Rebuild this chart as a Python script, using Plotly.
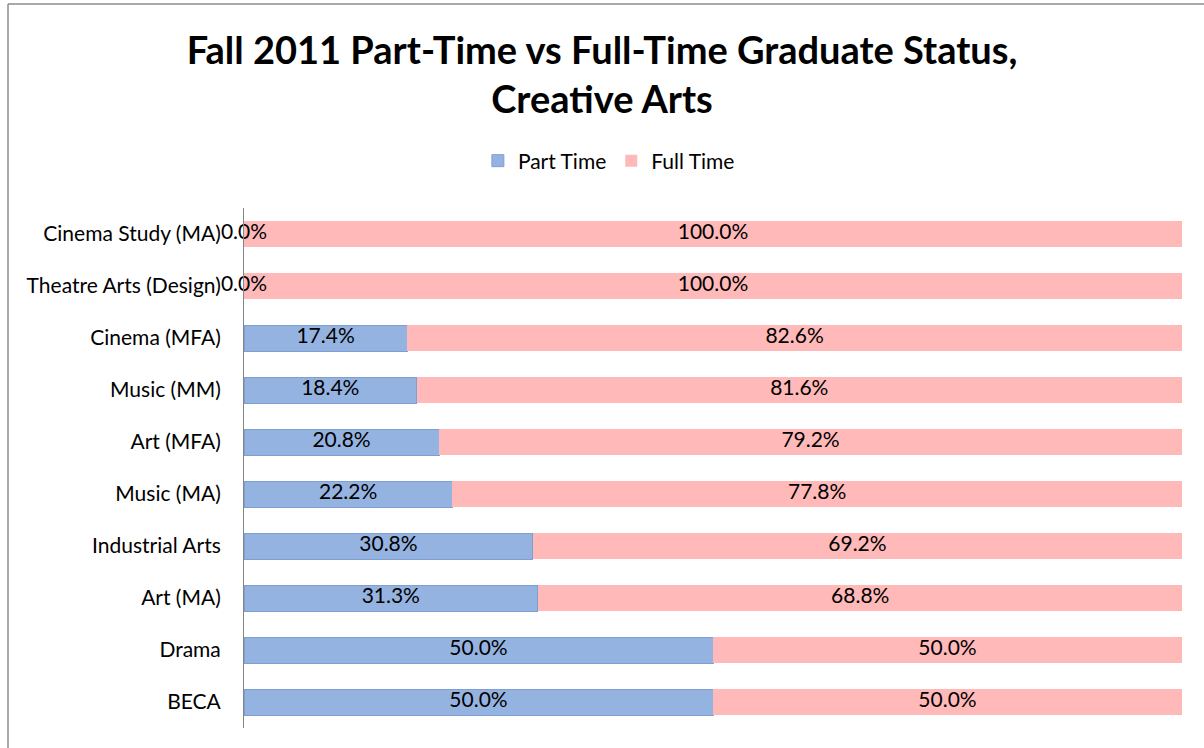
import plotly.graph_objects as go

categories = ["Cinema Study (MA)", "Theatre Arts (Design)", "Cinema (MFA)", "Music (MM)",
              "Art (MFA)", "Music (MA)", "Industrial Arts", "Art (MA)", "Drama", "BECA"]
part_time = [0.0, 0.0, 17.4, 18.4, 20.8, 22.2, 30.8, 31.3, 50.0, 50.0]
full_time = [100.0, 100.0, 82.6, 81.6, 79.2, 77.8, 69.2, 68.8, 50.0, 50.0]

FONT = "Lato"
W, H = 1204, 748
L, R, T, B = 244, 22, 208, 20

fig = go.Figure()
fig.add_trace(go.Bar(y=categories, x=part_time, orientation="h", name="Part Time",
                     marker=dict(color="#95B3E1", line=dict(color="#7F9FD2", width=1)),
                     hoverinfo="x+y"))
fig.add_trace(go.Bar(y=categories, x=full_time, orientation="h", name="Full Time",
                     marker=dict(color="#FFB9B9", line=dict(width=0)),
                     hoverinfo="x+y"))

# labels centred in each segment
fig.add_trace(go.Scatter(y=categories, x=[p / 2 for p in part_time], mode="text",
                         text=[f"{p:.1f}%" for p in part_time], showlegend=False, cliponaxis=False,
                         textposition="middle center",
                         textfont=dict(family=FONT, size=21, color="#000000"), hoverinfo="skip"))
fig.add_trace(go.Scatter(y=categories, x=[p + f / 2 for p, f in zip(part_time, full_time)], mode="text",
                         text=[f"{f:.1f}%" for f in full_time], showlegend=False, cliponaxis=False,
                         textposition="middle center",
                         textfont=dict(family=FONT, size=21, color="#000000"), hoverinfo="skip"))

pw, ph = W - L - R, H - T - B
fig.update_layout(
    width=W, height=H,
    barmode="stack", bargap=0.5,
    plot_bgcolor="white", paper_bgcolor="white",
    margin=dict(l=L, r=R, t=T, b=B),
    title=dict(text="<b>Fall 2011 Part-Time vs Full-Time Graduate Status,<br>Creative Arts</b>",
               x=0.5, xanchor="center", yref="container", y=1 - 64 / H, yanchor="top",
               font=dict(family=FONT, size=38, color="#000000")),
    legend=dict(orientation="h", x=0.389, xanchor="center", y=1.0 + (208 - 161) / ph, yanchor="middle",
                font=dict(family=FONT, size=21, color="#000000"), traceorder="normal",
                itemwidth=30),
    xaxis=dict(range=[0, 100], showticklabels=False, showgrid=False, zeroline=False,
               showline=False, fixedrange=True),
    yaxis=dict(categoryorder="array", categoryarray=categories, autorange="reversed",
               showgrid=False, zeroline=False, showline=True, linecolor="#868686", linewidth=1,
               ticks="", ticklabelstandoff=18, tickfont=dict(family=FONT, size=21, color="#000000")),
    shapes=[
        dict(type="line", xref="paper", yref="paper", x0=(8 - L) / pw, x1=(W + 5 - L) / pw,
             y0=1 + (T - 4) / ph, y1=1 + (T - 4) / ph, line=dict(color="#8C8C8C", width=1.5)),
        dict(type="line", xref="paper", yref="paper", x0=(8 - L) / pw, x1=(8 - L) / pw,
             y0=1 + (T - 4) / ph, y1=-B / ph - 0.05, line=dict(color="#8C8C8C", width=1.5)),
    ],
)

fig.write_html("out.html", config={"displayModeBar": False},
               post_script="document.body.style.margin='0';document.body.style.overflow='hidden';")
